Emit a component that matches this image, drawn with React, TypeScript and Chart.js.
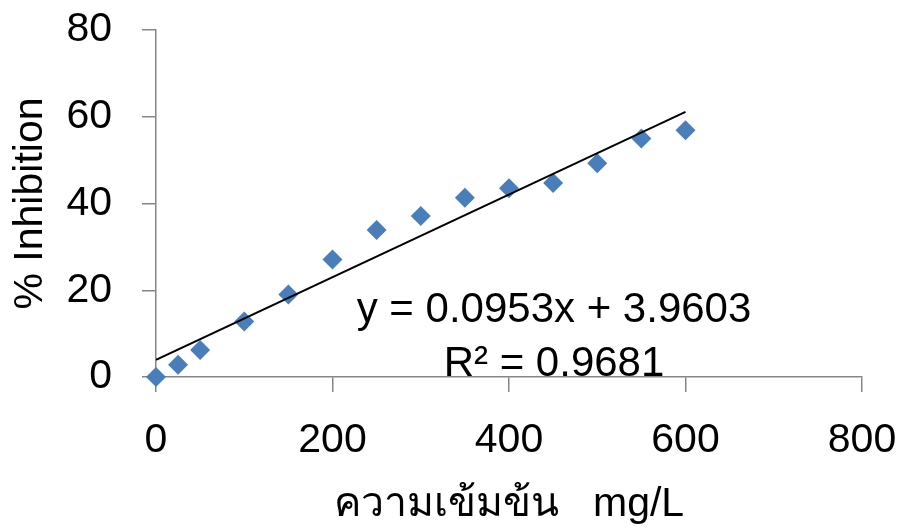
import React, { useEffect, useRef } from "react";
import { Chart, registerables } from "chart.js";

Chart.register(...registerables);

const concentrations = [0, 25, 50, 100, 150, 200, 250, 300, 350, 400, 450, 500, 550, 600];
const inhibition = [0, 2.8, 6.2, 12.8, 19.0, 27.1, 33.9, 37.1, 41.3, 43.5, 44.7, 49.3, 55.0, 56.9];

const trendSlope = 0.0953;
const trendIntercept = 3.9603;
const trendRange = [0, 600];
const equationText = "y = 0.0953x + 3.9603";
const r2Text = "R\u00B2 = 0.9681";

const xTitle = "ความเข้มข้น   mg/L";
const yTitle = "% Inhibition";

const FONT = "'Liberation Sans', Arial, 'Noto Sans', sans-serif";
const AXIS_COLOR = "#868686";

const equationPlugin = {
  id: "equationLabel",
  afterDatasetsDraw(chart: any) {
    const { ctx, scales } = chart;
    const x = scales.x.getPixelForValue(451);
    const y1 = scales.y.getPixelForValue(15.4);
    const y2 = scales.y.getPixelForValue(3.0);
    ctx.save();
    ctx.fillStyle = "#000";
    ctx.font = `42px ${FONT}`;
    ctx.textAlign = "center";
    ctx.textBaseline = "middle";
    ctx.fillText(equationText, x, y1);
    ctx.fillText(r2Text, x, y2);
    ctx.restore();
  },
};

export default function App() {
  const ref = useRef<HTMLCanvasElement | null>(null);

  useEffect(() => {
    if (!ref.current) return;
    const points = concentrations.map((c, i) => ({ x: c, y: inhibition[i] }));
    const trend = trendRange.map((c) => ({ x: c, y: trendSlope * c + trendIntercept }));
    const chart = new Chart(ref.current, {
      type: "scatter",
      data: {
        datasets: [
          {
            type: "line",
            label: "Linear",
            data: trend,
            borderColor: "#000",
            borderWidth: 2,
            pointRadius: 0,
            fill: false,
            order: 0,
          } as any,
          {
            label: "Inhibition",
            data: points,
            pointStyle: "rectRot",
            pointRadius: 10,
            pointHoverRadius: 10,
            backgroundColor: "#4A7EBB",
            borderColor: "#4A7EBB",
            borderWidth: 0,
            clip: false,
            order: 1,
          } as any,
        ],
      },
      options: {
        animation: false,
        responsive: false,
        maintainAspectRatio: false,
        layout: { padding: { top: 30, right: 39, left: 0, bottom: 0 } },
        plugins: {
          legend: { display: false },
          tooltip: { enabled: false },
        },
        scales: {
          x: {
            type: "linear",
            min: 0,
            max: 800,
            ticks: {
              stepSize: 200,
              color: "#000",
              font: { family: FONT, size: 41 },
              padding: 24,
            },
            grid: {
              display: true,
              drawOnChartArea: false,
              drawTicks: true,
              tickLength: 15,
              color: AXIS_COLOR,
              lineWidth: 1.5,
            },
            border: { display: true, color: AXIS_COLOR, width: 1.5 },
            title: {
              display: true,
              text: xTitle,
              color: "#000",
              font: { family: FONT, size: 41 },
              padding: 0,
            },
            afterFit(scale: any) {
              scale.height = 152;
              scale.paddingLeft = 0;
              scale.paddingRight = 0;
            },
          },
          y: {
            type: "linear",
            min: 0,
            max: 80,
            ticks: {
              stepSize: 20,
              color: "#000",
              font: { family: FONT, size: 41 },
              padding: 30,
            },
            grid: {
              display: true,
              drawOnChartArea: false,
              drawTicks: true,
              tickLength: 14,
              color: AXIS_COLOR,
              lineWidth: 1.5,
            },
            border: { display: true, color: AXIS_COLOR, width: 1.5 },
            title: {
              display: true,
              text: yTitle,
              color: "#000",
              font: { family: FONT, size: 41 },
              padding: { top: 6, bottom: 0 },
            },
            afterFit(scale: any) {
              scale.width = 156;
              scale.paddingTop = 0;
              scale.paddingBottom = 0;
            },
          },
        },
      },
      plugins: [equationPlugin],
    });
    return () => chart.destroy();
  }, []);

  return (
    <div style={{ position: "fixed", left: 0, top: 0, width: 901, height: 529, background: "#fff" }}>
      <canvas ref={ref} width={901} height={529} style={{ width: 901, height: 529, display: "block" }} />
    </div>
  );
}
